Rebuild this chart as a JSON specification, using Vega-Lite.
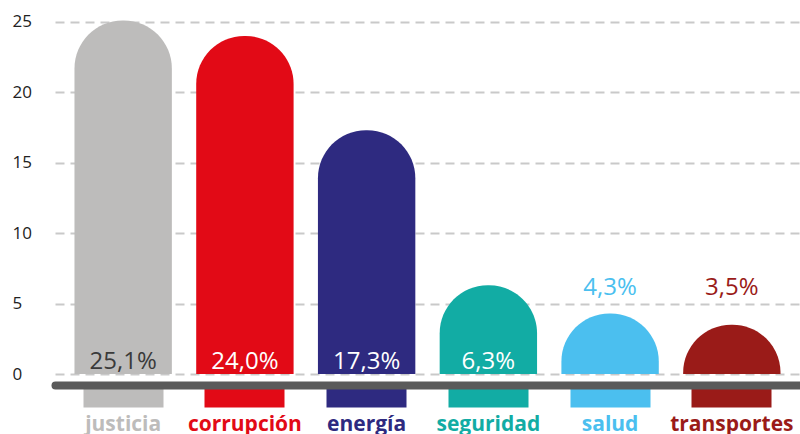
{
  "$schema": "https://vega.github.io/schema/vega-lite/v6.json",
  "autosize": "none",
  "width": 745,
  "height": 355,
  "padding": {"left": 55, "top": 19, "right": 0, "bottom": 60},
  "background": "white",
  "config": {"view": {"stroke": null}},
  "data": {
    "values": [
      {"tema": "justicia", "valor": 25.1, "etiqueta": "25,1%"},
      {"tema": "corrupción", "valor": 24.0, "etiqueta": "24,0%"},
      {"tema": "energía", "valor": 17.3, "etiqueta": "17,3%"},
      {"tema": "seguridad", "valor": 6.3, "etiqueta": "6,3%"},
      {"tema": "salud", "valor": 4.3, "etiqueta": "4,3%"},
      {"tema": "transportes", "valor": 3.5, "etiqueta": "3,5%"}
    ]
  },
  "encoding": {
    "x": {
      "field": "tema",
      "type": "nominal",
      "sort": null,
      "scale": {"paddingInner": 0.2, "paddingOuter": 0.16},
      "axis": {
        "title": null,
        "offset": 11,
        "grid": false,
        "domainColor": "#5a5a5a",
        "domainWidth": 8,
        "domainCap": "round",
        "tickSize": 22,
        "tickWidth": 80,
        "tickCap": "butt",
        "tickColor": {
          "condition": [
            {"test": "datum.value === 'justicia'", "value": "#bdbcbb"},
            {"test": "datum.value === 'corrupción'", "value": "#e20a16"},
            {"test": "datum.value === 'energía'", "value": "#2e2a80"},
            {"test": "datum.value === 'seguridad'", "value": "#12aca4"},
            {"test": "datum.value === 'salud'", "value": "#4bbfef"}
          ],
          "value": "#9a1b18"
        },
        "labelColor": {
          "condition": [
            {"test": "datum.value === 'justicia'", "value": "#bdbcbb"},
            {"test": "datum.value === 'corrupción'", "value": "#e20a16"},
            {"test": "datum.value === 'energía'", "value": "#2e2a80"},
            {"test": "datum.value === 'seguridad'", "value": "#12aca4"},
            {"test": "datum.value === 'salud'", "value": "#4bbfef"}
          ],
          "value": "#9a1b18"
        },
        "labelAngle": 0,
        "labelPadding": 6,
        "labelFont": "Open Sans",
        "labelFontWeight": "bold",
        "labelFontSize": 21
      }
    },
    "y": {
      "field": "valor",
      "type": "quantitative",
      "scale": {"domain": [0, 25.2], "nice": false},
      "axis": {
        "title": null,
        "values": [0, 5, 10, 15, 20, 25],
        "grid": true,
        "gridDash": [9, 6],
        "gridColor": "#c9c9c9",
        "gridWidth": 1.8,
        "domain": false,
        "ticks": false,
        "tickSize": 0,
        "labelAlign": "left",
        "labelPadding": 43,
        "labelFont": "Open Sans",
        "labelFontSize": 17,
        "labelColor": "#222222"
      }
    }
  },
  "layer": [
    {
      "mark": {"type": "bar", "cornerRadiusTopLeft": 48, "cornerRadiusTopRight": 48, "clip": true},
      "encoding": {
        "y2": {"datum": -4},
        "color": {
          "field": "tema",
          "type": "nominal",
          "legend": null,
          "scale": {
            "domain": ["justicia", "corrupción", "energía", "seguridad", "salud", "transportes"],
            "range": ["#bdbcbb", "#e20a16", "#2e2a80", "#12aca4", "#4bbfef", "#9a1b18"]
          }
        }
      }
    },
    {
      "transform": [{"filter": "datum.valor >= 5"}],
      "mark": {"type": "text", "font": "Open Sans", "fontSize": 24, "baseline": "alphabetic", "dy": -5},
      "encoding": {
        "y": {"datum": 0, "type": "quantitative"},
        "text": {"field": "etiqueta"},
        "color": {
          "condition": {"test": "datum.tema === 'justicia'", "value": "#3a3a3a"},
          "value": "white"
        }
      }
    },
    {
      "transform": [{"filter": "datum.valor < 5"}],
      "mark": {"type": "text", "font": "Open Sans", "fontSize": 24, "baseline": "alphabetic", "dy": -9},
      "encoding": {
        "y": {"datum": 5, "type": "quantitative"},
        "text": {"field": "etiqueta"},
        "color": {"field": "tema", "type": "nominal", "legend": null}
      }
    }
  ]
}
